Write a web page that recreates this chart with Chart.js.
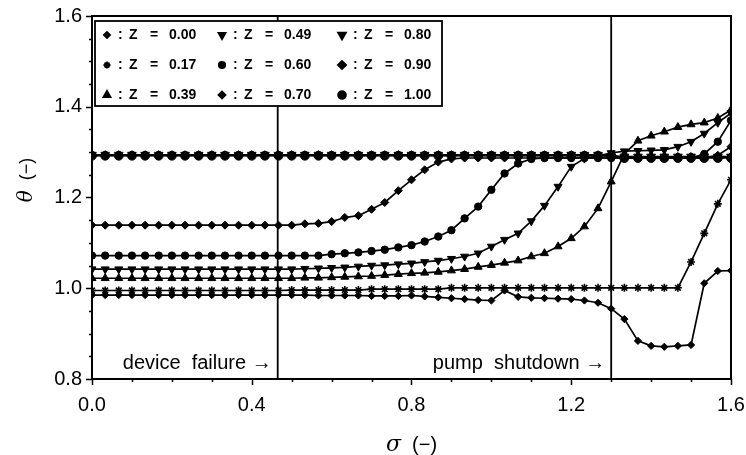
<!DOCTYPE html>
<html>
<head>
<meta charset="utf-8">
<script src="https://cdn.jsdelivr.net/npm/chart.js@4.4.1/dist/chart.umd.min.js"></script>
<style>
  html, body { margin: 0; padding: 0; background: #fff; }
  #wrap { width: 746px; height: 455px; }
</style>
</head>
<body>
<div id="wrap"><canvas id="c" width="746" height="455"></canvas></div>
<script>
// sigma (-) sample points
const sigma = [
  0.000, 0.033, 0.067, 0.100, 0.133, 0.167, 0.200, 0.233, 0.267, 0.300,
  0.333, 0.367, 0.400, 0.433, 0.467, 0.500, 0.533, 0.567, 0.600, 0.633,
  0.667, 0.700, 0.733, 0.767, 0.800, 0.833, 0.867, 0.900, 0.933, 0.967,
  1.000, 1.033, 1.067, 1.100, 1.133, 1.167, 1.200, 1.233, 1.267, 1.300,
  1.333, 1.367, 1.400, 1.433, 1.467, 1.500, 1.533, 1.567, 1.600
];

// theta (-) for each axial position Z
const thetaZ000 = [
  0.985, 0.985, 0.985, 0.985, 0.985, 0.985, 0.985, 0.985, 0.985, 0.985,
  0.985, 0.985, 0.985, 0.985, 0.985, 0.985, 0.985, 0.984, 0.984, 0.984,
  0.984, 0.983, 0.983, 0.983, 0.984, 0.982, 0.980, 0.978, 0.976, 0.974,
  0.973, 0.995, 0.981, 0.979, 0.978, 0.977, 0.976, 0.973, 0.968, 0.955,
  0.932, 0.884, 0.873, 0.871, 0.873, 0.875, 1.011, 1.038, 1.039
];
const thetaZ017 = [
  0.995, 0.995, 0.995, 0.995, 0.995, 0.995, 0.995, 0.995, 0.995, 0.995,
  0.995, 0.995, 0.995, 0.995, 0.995, 0.996, 0.996, 0.996, 0.996, 0.996,
  0.996, 0.998, 0.998, 0.998, 0.998, 0.998, 0.998, 1.001, 1.001, 1.001,
  1.001, 1.001, 1.001, 1.001, 1.001, 1.001, 1.001, 1.001, 1.001, 1.001,
  1.001, 1.001, 1.001, 1.001, 1.001, 1.058, 1.121, 1.186, 1.239
];
const thetaZ039 = [
  1.022, 1.022, 1.022, 1.022, 1.022, 1.022, 1.022, 1.022, 1.022, 1.022,
  1.022, 1.022, 1.022, 1.022, 1.022, 1.022, 1.023, 1.023, 1.024, 1.025,
  1.026, 1.027, 1.029, 1.031, 1.033, 1.034, 1.036, 1.039, 1.042, 1.047,
  1.051, 1.056, 1.061, 1.070, 1.077, 1.092, 1.110, 1.136, 1.176, 1.235,
  1.296, 1.325, 1.336, 1.345, 1.355, 1.361, 1.365, 1.375, 1.393
];
const thetaZ049 = [
  1.042, 1.042, 1.042, 1.042, 1.042, 1.042, 1.042, 1.042, 1.042, 1.042,
  1.042, 1.042, 1.042, 1.042, 1.042, 1.042, 1.043, 1.044, 1.045, 1.046,
  1.048, 1.050, 1.051, 1.053, 1.055, 1.058, 1.061, 1.065, 1.070, 1.077,
  1.092, 1.107, 1.121, 1.148, 1.182, 1.224, 1.268, 1.286, 1.292, 1.298,
  1.302, 1.303, 1.304, 1.305, 1.312, 1.323, 1.341, 1.365, 1.386
];
const thetaZ060 = [
  1.072, 1.072, 1.072, 1.072, 1.072, 1.072, 1.072, 1.072, 1.072, 1.072,
  1.072, 1.072, 1.072, 1.072, 1.072, 1.072, 1.072, 1.072, 1.075, 1.077,
  1.079, 1.082, 1.085, 1.090, 1.095, 1.103, 1.114, 1.128, 1.154, 1.180,
  1.217, 1.253, 1.275, 1.285, 1.287, 1.287, 1.287, 1.287, 1.287, 1.287,
  1.287, 1.287, 1.287, 1.287, 1.287, 1.287, 1.296, 1.323, 1.370
];
const thetaZ070 = [
  1.139, 1.139, 1.139, 1.139, 1.139, 1.139, 1.139, 1.139, 1.139, 1.139,
  1.139, 1.139, 1.139, 1.139, 1.139, 1.139, 1.142, 1.143, 1.147, 1.156,
  1.160, 1.174, 1.189, 1.215, 1.239, 1.261, 1.278, 1.285, 1.287, 1.287,
  1.287, 1.287, 1.287, 1.287, 1.287, 1.287, 1.287, 1.287, 1.287, 1.287,
  1.287, 1.287, 1.287, 1.287, 1.287, 1.287, 1.287, 1.293, 1.312
];
const thetaZ080 = [
  1.294, 1.294, 1.294, 1.294, 1.294, 1.294, 1.294, 1.294, 1.294, 1.294,
  1.294, 1.294, 1.294, 1.294, 1.294, 1.294, 1.294, 1.294, 1.294, 1.294,
  1.294, 1.294, 1.294, 1.294, 1.294, 1.294, 1.294, 1.294, 1.294, 1.294,
  1.294, 1.294, 1.294, 1.294, 1.294, 1.294, 1.294, 1.294, 1.294, 1.290,
  1.290, 1.290, 1.290, 1.290, 1.290, 1.290, 1.290, 1.290, 1.290
];
const thetaZ090 = [
  1.293, 1.293, 1.293, 1.293, 1.293, 1.293, 1.293, 1.293, 1.293, 1.293,
  1.293, 1.293, 1.293, 1.293, 1.293, 1.293, 1.293, 1.293, 1.293, 1.293,
  1.293, 1.293, 1.293, 1.293, 1.293, 1.293, 1.293, 1.293, 1.293, 1.293,
  1.293, 1.293, 1.293, 1.293, 1.293, 1.293, 1.293, 1.293, 1.293, 1.293,
  1.289, 1.289, 1.289, 1.289, 1.289, 1.289, 1.289, 1.289, 1.289
];
const thetaZ100 = [
  1.292, 1.292, 1.292, 1.292, 1.292, 1.292, 1.292, 1.292, 1.292, 1.292,
  1.292, 1.292, 1.292, 1.292, 1.292, 1.292, 1.292, 1.292, 1.292, 1.292,
  1.292, 1.292, 1.292, 1.292, 1.292, 1.292, 1.292, 1.292, 1.292, 1.292,
  1.292, 1.292, 1.292, 1.292, 1.292, 1.292, 1.292, 1.292, 1.292, 1.292,
  1.287, 1.287, 1.287, 1.287, 1.287, 1.287, 1.287, 1.287, 1.287
];

const zLabels = ['0.00', '0.17', '0.39', '0.49', '0.60', '0.70', '0.80', '0.90', '1.00'];
const thetaSeries = [thetaZ000, thetaZ017, thetaZ039, thetaZ049, thetaZ060, thetaZ070, thetaZ080, thetaZ090, thetaZ100];

// events
const eventSigma = [0.465, 1.30];
const eventLabels = ['device  failure \u2192', 'pump  shutdown \u2192'];

const xTicks = [0.0, 0.4, 0.8, 1.2, 1.6];
const yTicks = [0.8, 1.0, 1.2, 1.4, 1.6];

// marker look per series
const markers = [
  { style: 'rectRot', r: 3.6, rot: 0, bw: 1 },
  { style: 'star', r: 4, rot: 0, bw: 1.6 },
  { style: 'triangle', r: 4.6, rot: 0, bw: 1 },
  { style: 'triangle', r: 4.6, rot: 180, bw: 1 },
  { style: 'circle', r: 3.7, rot: 0, bw: 1 },
  { style: 'rectRot', r: 4, rot: 0, bw: 1 },
  { style: 'triangle', r: 5, rot: 180, bw: 1 },
  { style: 'rectRot', r: 4.6, rot: 0, bw: 1 },
  { style: 'circle', r: 4.4, rot: 0, bw: 1 }
];

const FONT = '"Liberation Sans", Arial, Helvetica, sans-serif';

const datasets = thetaSeries.map((vals, k) => ({
  label: 'Z = ' + zLabels[k],
  data: sigma.map((s, i) => ({ x: s, y: vals[i] })),
  borderColor: '#000',
  backgroundColor: '#000',
  borderWidth: 1.7,
  pointStyle: markers[k].style,
  pointRadius: markers[k].r,
  pointRotation: markers[k].rot,
  pointBorderWidth: markers[k].bw,
  tension: 0,
  fill: false
}));

eventSigma.forEach(s => {
  datasets.push({
    label: 'event',
    data: [{ x: s, y: 0.8 }, { x: s, y: 1.6 }],
    borderColor: '#000',
    borderWidth: 1.8,
    pointRadius: 0,
    fill: false
  });
});

const framePlugin = {
  id: 'frame',
  afterDraw(chart) {
    const { ctx, chartArea: a, scales: { x, y } } = chart;
    ctx.save();
    ctx.strokeStyle = '#000';
    ctx.fillStyle = '#000';

    // frame
    ctx.lineWidth = 2;
    ctx.strokeRect(a.left, a.top, a.right - a.left, a.bottom - a.top);

    // ticks
    ctx.lineWidth = 1.5;
    ctx.beginPath();
    for (let v = 0.8; v <= 1.6001; v += 0.05) {
      const py = Math.round(y.getPixelForValue(v)) + 0.5;
      const major = Math.abs((v * 5) - Math.round(v * 5)) < 1e-6;
      ctx.moveTo(a.left, py);
      ctx.lineTo(a.left - (major ? 6 : 3), py);
    }
    for (let v = 0; v <= 1.6001; v += 0.1) {
      const px = Math.round(x.getPixelForValue(v)) + 0.5;
      const major = Math.abs((v * 2.5) - Math.round(v * 2.5)) < 1e-6;
      ctx.moveTo(px, a.bottom);
      ctx.lineTo(px, a.bottom + (major ? 6 : 3));
    }
    ctx.stroke();

    // event labels
    ctx.font = '20px ' + FONT;
    ctx.textAlign = 'right';
    ctx.textBaseline = 'alphabetic';
    eventSigma.forEach((s, i) => {
      ctx.fillText(eventLabels[i], x.getPixelForValue(s) - 6, a.bottom - 10);
    });

    // axis titles
    ctx.textBaseline = 'middle';
    ctx.textAlign = 'left';
    const cx = (a.left + a.right) / 2;
    const s1 = '\u03c3';
    const s2 = '  (\u2212)';
    ctx.font = 'italic 22px "DejaVu Serif", serif';
    const w1 = ctx.measureText(s1).width;
    ctx.font = '20px ' + FONT;
    const w2 = ctx.measureText(s2).width;
    const tx = cx - (w1 + w2) / 2;
    ctx.font = 'italic 22px "DejaVu Serif", serif';
    ctx.fillText(s1, tx, 445);
    ctx.font = '20px ' + FONT;
    ctx.fillText(s2, tx + w1, 445);

    ctx.save();
    ctx.translate(27, 180);
    ctx.rotate(-Math.PI / 2);
    const t1 = '\u03b8';
    const t2 = '  (\u2212)';
    ctx.font = 'italic 20px "DejaVu Serif", serif';
    const tw1 = ctx.measureText(t1).width;
    ctx.font = '18px ' + FONT;
    const tw2 = ctx.measureText(t2).width;
    ctx.font = 'italic 20px "DejaVu Serif", serif';
    ctx.fillText(t1, -(tw1 + tw2) / 2, 0);
    ctx.font = '18px ' + FONT;
    ctx.fillText(t2, -(tw1 + tw2) / 2 + tw1, 0);
    ctx.restore();

    // legend box
    const lx = 95, ly = 21, lw = 347, lh = 85;
    ctx.lineWidth = 1.8;
    ctx.fillStyle = '#fff';
    ctx.fillRect(lx, ly, lw, lh);
    ctx.strokeRect(lx, ly, lw, lh);
    ctx.fillStyle = '#000';
    const colX = [107, 222, 342];
    const rowY = [35, 65, 95];
    ctx.font = 'bold 14px ' + FONT;
    ctx.textAlign = 'left';
    ctx.textBaseline = 'middle';
    for (let k = 0; k < zLabels.length; k++) {
      const col = Math.floor(k / 3), row = k % 3;
      const mx = colX[col], my = rowY[row];
      Chart.helpers.drawPoint(ctx, {
        pointStyle: markers[k].style,
        radius: markers[k].r - 0.5,
        rotation: markers[k].rot,
        borderWidth: markers[k].bw
      }, mx, my);
      ctx.fillText(':', mx + 11, my);
      ctx.fillText('Z', mx + 22, my);
      ctx.fillText('=', mx + 43, my);
      ctx.fillText(zLabels[k], mx + 62, my);
    }
    ctx.restore();
  }
};

new Chart(document.getElementById('c'), {
  type: 'line',
  data: { datasets },
  options: {
    responsive: false,
    animation: false,
    layout: { padding: { left: 0, right: 15, top: 16, bottom: 0 } },
    plugins: { legend: { display: false }, tooltip: { enabled: false } },
    scales: {
      x: {
        type: 'linear',
        min: 0, max: 1.6,
        grid: { display: false, drawTicks: false },
        border: { display: false },
        afterBuildTicks: s => { s.ticks = xTicks.map(v => ({ value: v })); },
        afterFit: s => { s.height = 76; s.paddingRight = 0; s.paddingLeft = 0; },
        ticks: {
          color: '#000',
          font: { family: FONT, size: 20 },
          padding: 14,
          maxRotation: 0,
          callback: v => v.toFixed(1)
        }
      },
      y: {
        min: 0.8, max: 1.6,
        grid: { display: false, drawTicks: false },
        border: { display: false },
        afterBuildTicks: s => { s.ticks = yTicks.map(v => ({ value: v })); },
        afterFit: s => { s.width = 92; s.paddingTop = 0; s.paddingBottom = 0; },
        ticks: {
          color: '#000',
          font: { family: FONT, size: 20 },
          padding: 10,
          callback: v => v.toFixed(1)
        }
      }
    }
  },
  plugins: [framePlugin]
});
</script>
</body>
</html>
